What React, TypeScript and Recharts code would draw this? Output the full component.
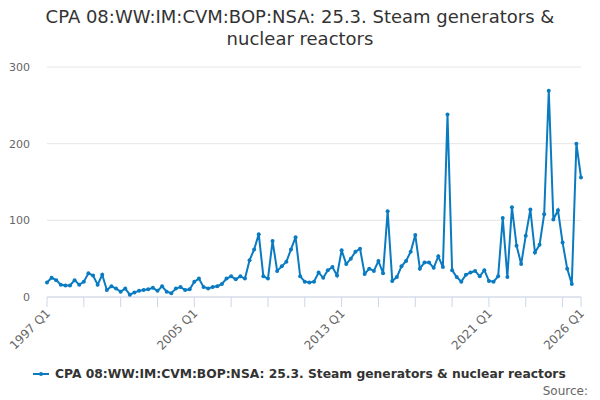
import { LineChart, Line, XAxis, YAxis, CartesianGrid } from "recharts";

// quarterly values, 1997 Q1 .. 2026 Q1
const values = [
  19, 25, 22, 16, 15, 15, 22, 16, 20, 31,
  28, 16, 29, 9, 14, 11, 7, 11, 3, 6,
  8, 9, 10, 12, 8, 14, 7, 5, 11, 13,
  9, 10, 20, 24, 13, 11, 13, 14, 17, 24,
  27, 23, 27, 24, 48, 62, 82, 27, 24, 73,
  34, 40, 46, 62, 78, 27, 20, 19, 20, 32,
  25, 35, 39, 28, 61, 43, 50, 59, 63, 30,
  37, 34, 47, 31, 112, 21, 26, 40, 47, 59,
  81, 37, 45, 45, 38, 53, 39, 238, 35, 26,
  20, 29, 32, 34, 27, 35, 21, 20, 27, 103,
  26, 117, 67, 43, 80, 114, 58, 68, 108, 269,
  101, 113, 71, 37, 17, 200, 156,
];

const startYear = 1997;
const quarters: string[] = values.map(
  (_, i) => `${startYear + Math.floor(i / 4)} Q${(i % 4) + 1}`
);

const labelledTicks = ["1997 Q1", "2005 Q1", "2013 Q1", "2021 Q1", "2026 Q1"];
const tickMarks = quarters.filter((_, i) => i % 8 === 0).concat(["2026 Q1"]);
const yTicks = [0, 100, 200, 300];

const seriesName = "CPA 08:WW:IM:CVM:BOP:NSA: 25.3. Steam generators & nuclear reactors";
const LINE_COLOR = "#0a7bc1";
const FONT = "'DejaVu Sans', sans-serif";

const data = quarters.map((q, i) => ({ q, value: values[i] }));

const XTick = (props: any) => {
  const { x, y, payload } = props;
  if (!labelledTicks.includes(payload.value)) return <g />;
  const tx = x + 4;
  const ty = y + 5;
  return (
    <text
      x={tx}
      y={ty}
      transform={`rotate(-45 ${tx} ${ty})`}
      textAnchor="end"
      fontSize={12}
      fill="#666666"
      fontFamily={FONT}
    >
      {payload.value}
    </text>
  );
};

export default function App() {
  return (
    <div style={{ position: "absolute", left: 0, top: 0, width: 600, height: 400, fontFamily: FONT, background: "#fff" }}>
      <div
        style={{
          position: "absolute",
          top: 6,
          left: 0,
          width: 600,
          textAlign: "center",
          fontSize: 18,
          lineHeight: "22px",
          color: "#333333",
        }}
      >
        CPA 08:WW:IM:CVM:BOP:NSA: 25.3. Steam generators &amp;
        <br />
        nuclear reactors
      </div>
      <LineChart width={600} height={400} data={data} margin={{ top: 67, right: 19, bottom: 53, left: 0 }}>
        <CartesianGrid vertical={false} stroke="#e6e6e6" />
        <XAxis
          dataKey="q"
          ticks={tickMarks}
          interval={0}
          tick={<XTick />}
          tickSize={10}
          tickMargin={2}
          height={50}
          stroke="#ccd6eb"
          tickLine={{ stroke: "#ccd6eb" }}
          axisLine={{ stroke: "#ccd6eb" }}
        />
        <YAxis
          domain={[0, 300]}
          ticks={yTicks}
          width={47}
          axisLine={false}
          tickLine={false}
          tickMargin={11}
          tick={{ fontSize: 11, fill: "#666666", fontFamily: FONT }}
        />
        <Line
          type="linear"
          dataKey="value"
          stroke={LINE_COLOR}
          strokeWidth={2}
          dot={{ r: 2, fill: LINE_COLOR, stroke: LINE_COLOR, strokeWidth: 0 }}
          isAnimationActive={false}
        />
      </LineChart>
      <div
        style={{
          position: "absolute",
          top: 366,
          left: 32,
          height: 16,
          display: "flex",
          alignItems: "center",
          fontSize: 12.3,
          fontWeight: "bold",
          color: "#333333",
          whiteSpace: "nowrap",
        }}
      >
        <svg width={18} height={16} style={{ marginRight: 5 }}>
          <line x1={1} y1={8} x2={17} y2={8} stroke={LINE_COLOR} strokeWidth={2} />
          <circle cx={9} cy={8} r={2} fill={LINE_COLOR} />
        </svg>
        {seriesName}
      </div>
      <div style={{ position: "absolute", top: 384, right: 12, fontSize: 12, color: "#666666" }}>Source:</div>
    </div>
  );
}
